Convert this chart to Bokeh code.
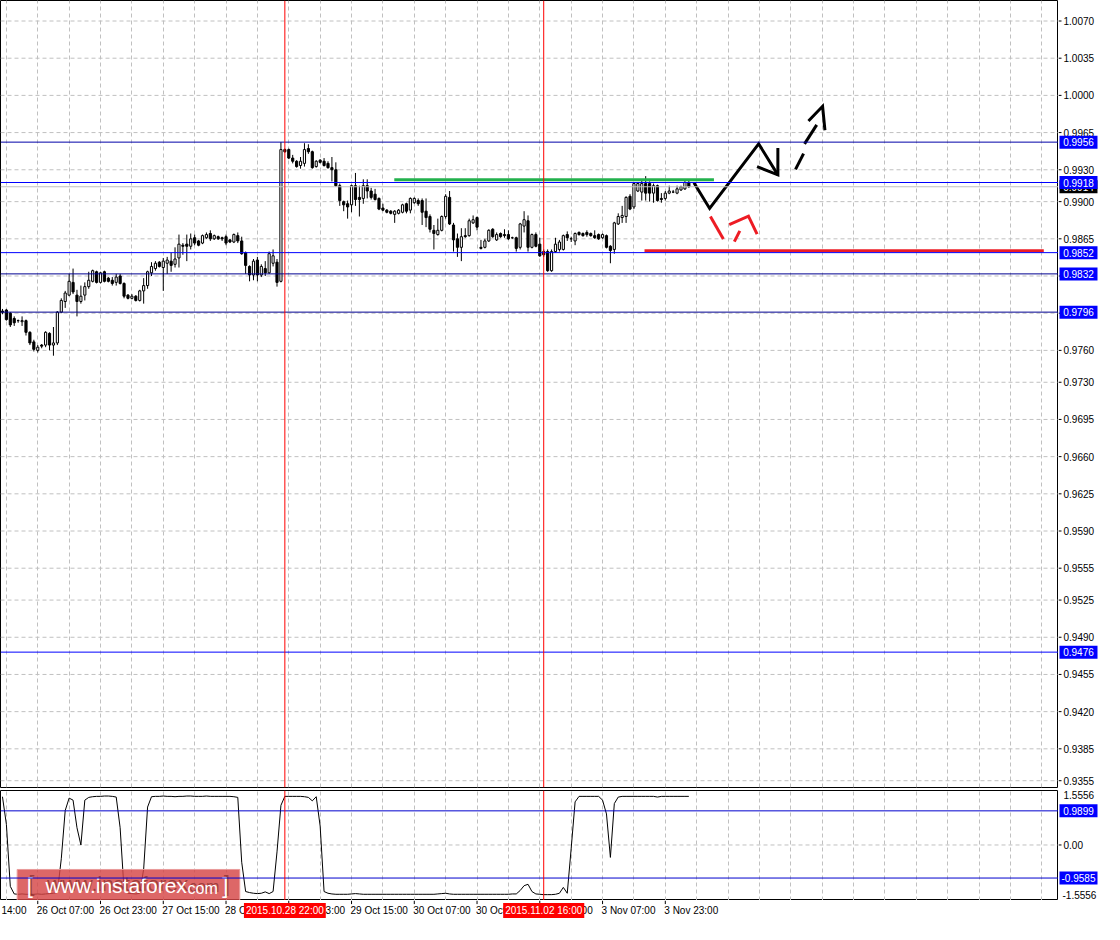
from bokeh.plotting import figure
from bokeh.models import Range1d, FixedTicker, Span, Label, ColumnDataSource
from bokeh.layouts import column, row
from bokeh.embed import file_html
from bokeh.resources import INLINE
from bokeh.core.properties import value

FONT = "Liberation Sans"

# ---------------- data (hourly candles) ----------------
opens = [0.9797, 0.9798, 0.9795, 0.9790, 0.9788, 0.9787, 0.9788, 0.9777, 0.9768, 0.9760,
         0.9765, 0.9765, 0.9776, 0.9765, 0.9767, 0.9796, 0.9806, 0.9812, 0.9824, 0.9812,
         0.9806, 0.9812, 0.9820, 0.9825, 0.9834, 0.9824, 0.9834, 0.9828, 0.9826, 0.9824,
         0.9830, 0.9823, 0.9812, 0.9809, 0.9811, 0.9807, 0.9816, 0.9821, 0.9833, 0.9837,
         0.9843, 0.9838, 0.9842, 0.9844, 0.9841, 0.9847, 0.9859, 0.9860, 0.9858, 0.9866,
         0.9863, 0.9861, 0.9866, 0.9870, 0.9865, 0.9867, 0.9866, 0.9867, 0.9864, 0.9862,
         0.9868, 0.9863, 0.9852, 0.9839, 0.9831, 0.9845, 0.9831, 0.9837, 0.9833, 0.9842,
         0.9843, 0.9825, 0.9949, 0.9949, 0.9941, 0.9938, 0.9934, 0.9936, 0.9950, 0.9947,
         0.9933, 0.9939, 0.9938, 0.9936, 0.9932, 0.9930, 0.9915, 0.9900, 0.9898, 0.9897,
         0.9915, 0.9904, 0.9903, 0.9915, 0.9910, 0.9907, 0.9903, 0.9894, 0.9892, 0.9891,
         0.9888, 0.9889, 0.9890, 0.9898, 0.9892, 0.9899, 0.9901, 0.9901, 0.9891, 0.9886,
         0.9873, 0.9869, 0.9873, 0.9886, 0.9904, 0.9878, 0.9865, 0.9857, 0.9868, 0.9868,
         0.9880, 0.9885, 0.9857, 0.9857, 0.9863, 0.9874, 0.9864, 0.9870, 0.9869, 0.9869,
         0.9866, 0.9866, 0.9857, 0.9877, 0.9882, 0.9857, 0.9869, 0.9860, 0.9853, 0.9853,
         0.9835, 0.9853, 0.9855, 0.9855, 0.9869, 0.9865, 0.9863, 0.9871, 0.9870, 0.9871,
         0.9870, 0.9868, 0.9869, 0.9866, 0.9868, 0.9858, 0.9855, 0.9879, 0.9885, 0.9886,
         0.9905, 0.9895, 0.9910, 0.9909, 0.9917, 0.9917, 0.9908, 0.9915, 0.9903, 0.9903,
         0.9908, 0.9909, 0.9908, 0.9911, 0.9912, 0.9918]
highs = [0.9799, 0.9799, 0.9796, 0.9792, 0.9789, 0.9792, 0.9789, 0.9778, 0.9770, 0.9765,
         0.9766, 0.9778, 0.9777, 0.9782, 0.9797, 0.9809, 0.9816, 0.9832, 0.9837, 0.9817,
         0.9821, 0.9824, 0.9834, 0.9836, 0.9835, 0.9834, 0.9835, 0.9829, 0.9829, 0.9832,
         0.9832, 0.9824, 0.9813, 0.9813, 0.9812, 0.9817, 0.9828, 0.9835, 0.9843, 0.9844,
         0.9844, 0.9847, 0.9848, 0.9852, 0.9857, 0.9869, 0.9861, 0.9869, 0.9870, 0.9869,
         0.9864, 0.9869, 0.9871, 0.9873, 0.9869, 0.9868, 0.9867, 0.9869, 0.9865, 0.9870,
         0.9871, 0.9867, 0.9853, 0.9840, 0.9846, 0.9848, 0.9841, 0.9844, 0.9853, 0.9855,
         0.9846, 0.9956, 0.9950, 0.9950, 0.9944, 0.9939, 0.9942, 0.9955, 0.9954, 0.9948,
         0.9939, 0.9940, 0.9941, 0.9938, 0.9942, 0.9937, 0.9917, 0.9901, 0.9901, 0.9916,
         0.9927, 0.9915, 0.9921, 0.9921, 0.9913, 0.9912, 0.9904, 0.9898, 0.9893, 0.9892,
         0.9892, 0.9893, 0.9898, 0.9899, 0.9904, 0.9904, 0.9903, 0.9903, 0.9903, 0.9888,
         0.9878, 0.9884, 0.9887, 0.9907, 0.9910, 0.9880, 0.9870, 0.9875, 0.9875, 0.9884,
         0.9887, 0.9886, 0.9864, 0.9865, 0.9874, 0.9875, 0.9871, 0.9871, 0.9874, 0.9873,
         0.9867, 0.9867, 0.9880, 0.9891, 0.9887, 0.9870, 0.9871, 0.9866, 0.9855, 0.9855,
         0.9855, 0.9866, 0.9864, 0.9869, 0.9872, 0.9867, 0.9871, 0.9872, 0.9871, 0.9873,
         0.9871, 0.9873, 0.9870, 0.9870, 0.9869, 0.9859, 0.9881, 0.9889, 0.9896, 0.9905,
         0.9907, 0.9918, 0.9918, 0.9921, 0.9924, 0.9919, 0.9917, 0.9916, 0.9908, 0.9910,
         0.9915, 0.9911, 0.9915, 0.9915, 0.9920, 0.9920]
lows = [0.9794, 0.9788, 0.9782, 0.9783, 0.9786, 0.9783, 0.9774, 0.9765, 0.9759, 0.9758,
        0.9762, 0.9763, 0.9760, 0.9755, 0.9765, 0.9795, 0.9800, 0.9811, 0.9813, 0.9792,
        0.9804, 0.9807, 0.9818, 0.9824, 0.9823, 0.9823, 0.9824, 0.9824, 0.9821, 0.9821,
        0.9822, 0.9809, 0.9808, 0.9808, 0.9806, 0.9806, 0.9804, 0.9818, 0.9830, 0.9835,
        0.9838, 0.9816, 0.9832, 0.9834, 0.9838, 0.9838, 0.9850, 0.9844, 0.9855, 0.9859,
        0.9858, 0.9860, 0.9865, 0.9863, 0.9864, 0.9864, 0.9863, 0.9859, 0.9861, 0.9861,
        0.9861, 0.9850, 0.9832, 0.9825, 0.9826, 0.9825, 0.9829, 0.9830, 0.9832, 0.9839,
        0.9820, 0.9824, 0.9946, 0.9940, 0.9936, 0.9932, 0.9931, 0.9933, 0.9945, 0.9931,
        0.9932, 0.9936, 0.9933, 0.9931, 0.9919, 0.9914, 0.9896, 0.9891, 0.9884, 0.9890,
        0.9896, 0.9886, 0.9898, 0.9903, 0.9902, 0.9901, 0.9892, 0.9891, 0.9889, 0.9888,
        0.9880, 0.9888, 0.9889, 0.9889, 0.9889, 0.9898, 0.9896, 0.9878, 0.9876, 0.9871,
        0.9855, 0.9868, 0.9872, 0.9884, 0.9878, 0.9853, 0.9848, 0.9844, 0.9866, 0.9867,
        0.9879, 0.9873, 0.9855, 0.9856, 0.9862, 0.9866, 0.9863, 0.9866, 0.9866, 0.9864,
        0.9865, 0.9853, 0.9855, 0.9871, 0.9853, 0.9856, 0.9857, 0.9848, 0.9848, 0.9834,
        0.9834, 0.9852, 0.9853, 0.9854, 0.9863, 0.9862, 0.9859, 0.9868, 0.9867, 0.9867,
        0.9867, 0.9865, 0.9864, 0.9865, 0.9856, 0.9842, 0.9851, 0.9878, 0.9880, 0.9880,
        0.9892, 0.9893, 0.9909, 0.9901, 0.9901, 0.9900, 0.9899, 0.9900, 0.9899, 0.9901,
        0.9907, 0.9908, 0.9907, 0.9910, 0.9911, 0.9913]
closes = [0.9796, 0.9789, 0.9784, 0.9786, 0.9788, 0.9788, 0.9777, 0.9767, 0.9761, 0.9763,
          0.9764, 0.9777, 0.9765, 0.9767, 0.9796, 0.9807, 0.9814, 0.9825, 0.9815, 0.9806,
          0.9811, 0.9820, 0.9826, 0.9835, 0.9824, 0.9833, 0.9825, 0.9825, 0.9823, 0.9829,
          0.9823, 0.9811, 0.9809, 0.9811, 0.9807, 0.9816, 0.9821, 0.9834, 0.9839, 0.9842,
          0.9839, 0.9844, 0.9845, 0.9840, 0.9846, 0.9860, 0.9858, 0.9858, 0.9865, 0.9861,
          0.9859, 0.9868, 0.9869, 0.9865, 0.9868, 0.9865, 0.9865, 0.9861, 0.9862, 0.9869,
          0.9863, 0.9851, 0.9840, 0.9831, 0.9844, 0.9831, 0.9839, 0.9833, 0.9851, 0.9849,
          0.9824, 0.9949, 0.9947, 0.9941, 0.9938, 0.9933, 0.9938, 0.9949, 0.9947, 0.9932,
          0.9938, 0.9937, 0.9934, 0.9932, 0.9930, 0.9915, 0.9901, 0.9897, 0.9895, 0.9915,
          0.9902, 0.9902, 0.9915, 0.9910, 0.9904, 0.9902, 0.9893, 0.9892, 0.9890, 0.9889,
          0.9891, 0.9892, 0.9897, 0.9891, 0.9903, 0.9903, 0.9898, 0.9890, 0.9885, 0.9874,
          0.9870, 0.9873, 0.9886, 0.9905, 0.9879, 0.9864, 0.9857, 0.9867, 0.9867, 0.9882,
          0.9883, 0.9876, 0.9856, 0.9863, 0.9873, 0.9867, 0.9869, 0.9867, 0.9868, 0.9865,
          0.9866, 0.9856, 0.9879, 0.9883, 0.9857, 0.9869, 0.9858, 0.9849, 0.9850, 0.9835,
          0.9853, 0.9860, 0.9862, 0.9868, 0.9866, 0.9865, 0.9870, 0.9869, 0.9868, 0.9869,
          0.9868, 0.9866, 0.9865, 0.9869, 0.9857, 0.9854, 0.9880, 0.9886, 0.9887, 0.9904,
          0.9893, 0.9917, 0.9917, 0.9917, 0.9908, 0.9908, 0.9915, 0.9901, 0.9902, 0.9908,
          0.9910, 0.9909, 0.9912, 0.9914, 0.9918, 0.9914]

# oscillator in the lower window
indicator = [1.40, 0.60, -1.20, -1.42, -1.43, -1.42, -1.43, -1.43, -1.43, -1.42,
             -1.43, -1.42, -1.41, -1.40, -1.38, -0.40, 1.00, 1.36, 1.30, 0.50,
             0.00, 1.30, 1.38, 1.40, 1.41, 1.41, 1.42, 1.42, 1.41, 1.39,
             0.50, -1.30, -1.40, -1.41, -1.42, -1.40, -0.70, 1.10, 1.40, 1.41,
             1.41, 1.42, 1.41, 1.41, 1.40, 1.41, 1.41, 1.42, 1.42, 1.41,
             1.41, 1.41, 1.42, 1.41, 1.41, 1.41, 1.41, 1.41, 1.41, 1.40,
             1.38, -0.50, -1.35, -1.38, -1.40, -1.41, -1.40, -1.36, -1.41, -1.35,
             -0.20, 1.15, 1.41, 1.41, 1.41, 1.41, 1.41, 1.40, 1.38, 1.28,
             1.40, 0.55, -1.35, -1.40, -1.42, -1.43, -1.43, -1.43, -1.43, -1.42,
             -1.41, -1.42, -1.43, -1.43, -1.43, -1.43, -1.43, -1.43, -1.43, -1.43,
             -1.43, -1.43, -1.43, -1.43, -1.43, -1.43, -1.43, -1.43, -1.43, -1.43,
             -1.43, -1.42, -1.41, -1.40, -1.42, -1.43, -1.43, -1.43, -1.43, -1.43,
             -1.43, -1.43, -1.43, -1.43, -1.43, -1.43, -1.43, -1.43, -1.43, -1.43,
             -1.42, -1.42, -1.32, -1.18, -1.14, -1.35, -1.42, -1.43, -1.44, -1.44,
             -1.44, -1.43, -1.40, -1.23, -1.40, -0.10, 1.25, 1.41, 1.41, 1.41,
             1.41, 1.41, 1.41, 1.30, 0.90, -0.36, 1.20, 1.39, 1.41, 1.41,
             1.41, 1.41, 1.41, 1.41, 1.41, 1.41, 1.41, 1.39, 1.41, 1.41,
             1.41, 1.41, 1.41, 1.41, 1.41, 1.41]

# price scale ticks (right axis)
price_ticks = [1.0070, 1.0035, 1.0000, 0.9965, 0.9930, 0.9900, 0.9865, 0.9830, 0.9795,
               0.9760, 0.9730, 0.9695, 0.9660, 0.9625, 0.9590, 0.9555, 0.9525, 0.9490,
               0.9455, 0.9420, 0.9385, 0.9355]

# horizontal levels drawn on the chart
levels = [0.9956, 0.9918, 0.9852, 0.9832, 0.9796, 0.9476]
level_colors = ["#0000A8", "#0000FF", "#0000FF", "#000090", "#000090", "#0000FF"]
osc_levels = [0.9899, -0.9585]
osc_ticks = [0.0]
osc_max = 1.5556

# time axis (bar index -> label)
time_label_bars = [0, 9, 25, 41, 57, 73, 89, 105, 121, 137, 153, 169]
time_labels = ["14:00", "26 Oct 07:00", "26 Oct 23:00", "27 Oct 15:00", "28 Oct 07:00",
               "28 Oct 23:00", "29 Oct 15:00", "30 Oct 07:00", "30 Oct 23:00", "2 Nov 15:00",
               "3 Nov 07:00", "3 Nov 23:00"]
vline_bars = [72, 138]
vline_labels = ["2015.10.28 22:00", "2015.11.02 16:00"]

# hand-drawn analysis marks (bar index, price)
green_x = [99.9, 181.4]
green_y = [0.99205, 0.99205]
redlvl_x = [163.7, 265.5]
redlvl_y = [0.98538, 0.98538]
fc_black_x = [[176.3, 180.3, 192.8, 197.7], [192.4, 197.7, 197.7]]
fc_black_y = [[0.99178, 0.98936, 0.99544, 0.99252], [0.99329, 0.99252, 0.99504]]
fc_dash_x = [[202.2, 204.25], [204.5, 207.6], [205.5, 209.1, 209.7]]
fc_dash_y = [[0.99304, 0.99452], [0.99544, 0.99722], [0.99759, 0.99897, 0.99672]]
fc_red_x = [[180.5, 183.8], [186.6, 188.0], [185.3, 190.2, 192.4]]
fc_red_y = [[0.98860, 0.98648], [0.98624, 0.98725], [0.98784, 0.98863, 0.98694]]

# ---------------- layout constants ----------------
N = len(closes)
idx = list(range(N))
X0, X1 = -0.5, 269.25
x_rng = Range1d(X0, X1)
grid_bars = list(range(1, 270, 8))
GRID = "#C0C0C0"
W_CHART = 1058
W_SCALE = 42
H_MAIN = 788
H_SUB = 112
H_STRIP = 18


def chart_fig(height, y_rng, top, bottom):
    f = figure(width=W_CHART, height=height, x_range=x_rng, y_range=y_rng,
               output_backend="svg", toolbar_location=None,
               x_axis_location=None, y_axis_location=None,
               min_border_left=0, min_border_right=0, min_border_top=top, min_border_bottom=bottom,
               background_fill_color="white", border_fill_color="white",
               outline_line_color="black", outline_line_width=1)
    f.xgrid.ticker = FixedTicker(ticks=grid_bars)
    f.ygrid.visible = False
    f.xgrid.grid_line_color = GRID
    f.xgrid.grid_line_dash = "4 3"
    return f


def scale_fig(height, y_rng, top, bottom):
    f = figure(width=W_SCALE, height=height, x_range=Range1d(0, W_SCALE), y_range=y_rng,
               output_backend="svg", toolbar_location=None,
               x_axis_location=None, y_axis_location=None,
               min_border_left=0, min_border_right=0, min_border_top=top, min_border_bottom=bottom,
               background_fill_color="white", border_fill_color="white", outline_line_color=None)
    f.xgrid.visible = False
    f.ygrid.visible = False
    return f


def hgrid(f, ticks):
    n = len(ticks)
    f.segment(x0=[X0] * n, x1=[X1] * n, y0=ticks, y1=ticks, line_color=GRID, line_dash="4 3",
              line_width=1, level="underlay")


def scale_ticks(s, ticks, texts):
    n = len(ticks)
    s.segment(x0=[0] * n, x1=[3] * n, y0=ticks, y1=ticks, line_color="black", line_width=1)
    s.text(x=[5] * n, y=ticks, text=texts, text_align="left", text_baseline="middle",
           text_font=value(FONT), text_font_size="10px", text_color="black")


def box_labels(s, ys, texts, bgs):
    n = len(ys)
    s.rect(x=[20] * n, y=ys, width=38, height=13, width_units="screen", height_units="screen",
           fill_color=bgs, line_color=None)
    s.text(x=[20] * n, y=ys, text=texts, text_align="center", text_baseline="middle",
           text_font=value(FONT), text_font_size="10px", text_color="white")


# ---- main price window ----
p_rng = Range1d(0.93486, 1.00893)
main = chart_fig(H_MAIN, p_rng, 0, 1)
hgrid(main, price_ticks)

top_b = [max(o, c) for o, c in zip(opens, closes)]
bot_b = [min(o, c) for o, c in zip(opens, closes)]
fill = ["white" if c > o else "black" for o, c in zip(opens, closes)]
src = ColumnDataSource(dict(x=idx, o=opens, h=highs, l=lows, c=closes, top=top_b, bottom=bot_b, fill=fill))
main.segment(x0="x", y0="l", x1="x", y1="h", source=src, line_color="black", line_width=1)
main.vbar(x="x", top="top", bottom="bottom", width=0.55, fill_color="fill",
          line_color="black", line_width=1, source=src)

main.add_layout(Span(location=closes[-1], dimension="width", line_color="#C0C0C0", line_width=1))
for lv, col in zip(levels, level_colors):
    main.add_layout(Span(location=lv, dimension="width", line_color=col, line_width=1))
for vb in vline_bars:
    main.add_layout(Span(location=vb, dimension="height", line_color="#FF0000", line_width=1))

main.line(green_x, green_y, line_color="#22B14C", line_width=3)
main.line(redlvl_x, redlvl_y, line_color="#ED1C24", line_width=3)
main.multi_line(fc_black_x, fc_black_y, line_color="black", line_width=3, line_join="miter")
main.multi_line(fc_dash_x, fc_dash_y, line_color="black", line_width=3, line_join="miter")
main.multi_line(fc_red_x, fc_red_y, line_color="#ED1C24", line_width=3, line_join="miter")

main_scale = scale_fig(H_MAIN, p_rng, 0, 1)
scale_ticks(main_scale, price_ticks, ["%.4f" % t for t in price_ticks])
box_labels(main_scale, [closes[-1]], ["%.4f" % closes[-1]], ["black"])
box_labels(main_scale, levels, ["%.4f" % lv for lv in levels], ["#0000FF"] * len(levels))

# ---- oscillator window ----
o_rng = Range1d(-1.61, 1.58)
sub = chart_fig(H_SUB, o_rng, 2, 0)
hgrid(sub, osc_ticks)
sub.line(idx, indicator, line_color="black", line_width=1)
for lv in osc_levels:
    sub.add_layout(Span(location=lv, dimension="width", line_color="#0000CD", line_width=1))
for vb in vline_bars:
    sub.add_layout(Span(location=vb, dimension="height", line_color="#FF0000", line_width=1))

# watermark
sub.quad(left=[3.75], right=[60.5], bottom=[-1.61], top=[-0.71], fill_color="#D64545",
         fill_alpha=0.82, line_color="#E99A9A", line_width=1)
wm_x = [7.0, 11.0, 47.2, 56.8]
wm_t = ["[", "www.instaforex", "com", "]"]
wm_size = ["22px", "21px", "16px", "22px"]
wm_align = ["center", "left", "left", "center"]
wm_y = [-1.17, -1.17, -1.25, -1.17]
for dx, dy, colr, alpha in ((1.5, -1.5, "#6A1A1A", 0.55), (0, 0, "white", 1.0)):
    sub.text(x=wm_x, y=wm_y, text=wm_t, text_align=wm_align, text_baseline="middle",
             text_font=value(FONT), text_font_size=wm_size,
             text_color=colr, text_alpha=alpha, x_offset=dx, y_offset=dy)

sub_scale = scale_fig(H_SUB, o_rng, 2, 0)
scale_ticks(sub_scale, osc_ticks, ["%.2f" % t for t in osc_ticks])
sub_scale.text(x=[5, 4], y=[osc_max, -osc_max], text=["%.4f" % osc_max, "%.4f" % -osc_max],
               text_align="left", text_baseline=["top", "bottom"], text_font=value(FONT),
               text_font_size="10px", text_color="black")
box_labels(sub_scale, osc_levels, ["%.4f" % lv for lv in osc_levels], ["#0000FF"] * len(osc_levels))

# ---- time scale strip ----
strip = figure(width=W_CHART + W_SCALE, height=H_STRIP, x_range=x_rng, y_range=Range1d(0, 1),
               output_backend="svg", toolbar_location=None,
               x_axis_location=None, y_axis_location=None,
               min_border_left=0, min_border_right=W_SCALE, min_border_top=0, min_border_bottom=0,
               background_fill_color="white", border_fill_color="white", outline_line_color=None)
strip.xgrid.visible = False
strip.ygrid.visible = False
tick_bars = time_label_bars[1:]
strip.segment(x0=tick_bars, y0=[1.0] * len(tick_bars), x1=tick_bars,
              y1=[0.8] * len(tick_bars), line_color="black", line_width=1)
strip.text(x=time_label_bars, y=[0.45] * len(time_label_bars), text=time_labels, text_align="left",
           text_baseline="middle", text_font=value(FONT), text_font_size="10px",
           text_color="black", x_offset=-1)
for vb, t in zip(vline_bars, vline_labels):
    strip.add_layout(Label(x=vb, y=0.45, text=t, text_align="center", text_baseline="middle",
                           text_font=FONT, text_font_size="10px", text_color="white",
                           background_fill_color="#FF0000", background_fill_alpha=1.0, padding=2))

layout = column(row(main, main_scale, spacing=0), row(sub, sub_scale, spacing=0), strip, spacing=0)
open("out.html", "w").write(file_html(layout, INLINE))
